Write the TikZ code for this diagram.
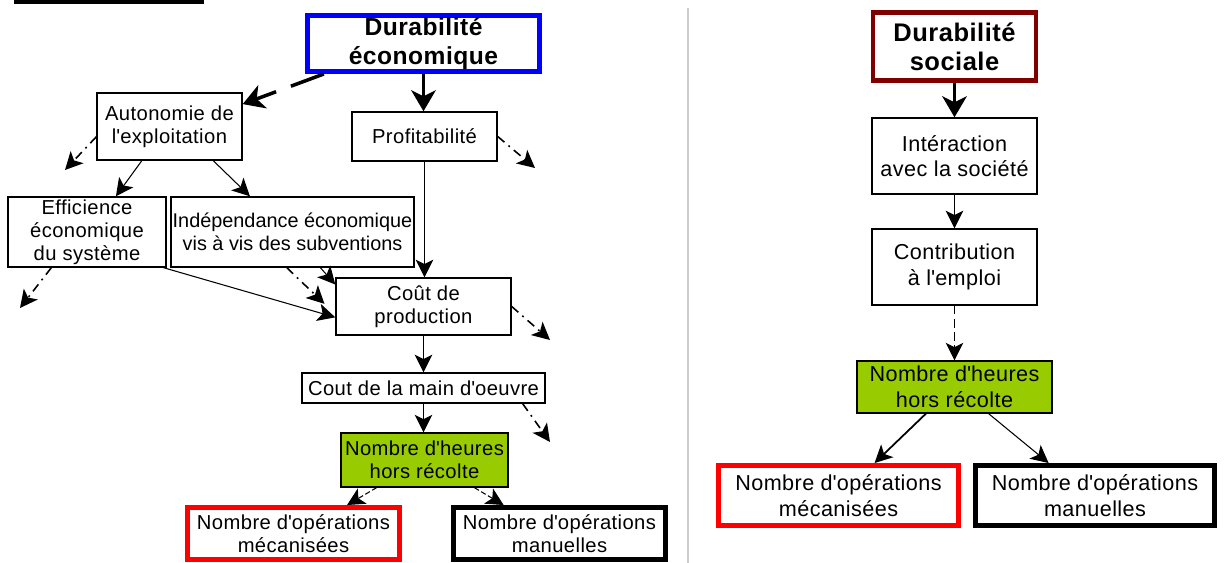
\documentclass[tikz,border=0pt]{standalone}
\usepackage{fontspec}
\setmainfont{Liberation Sans}[LetterSpace=2]
\usetikzlibrary{arrows.meta}
\definecolor{vert}{HTML}{99CC00}
\definecolor{bordeaux}{HTML}{800000}
\newcommand{\apo}{\textquotesingle}
\begin{document}
\begin{tikzpicture}[box/.style={draw,line width=.8pt,align=center,inner sep=1pt,font=\fontsize{11.5}{13}\selectfont},
  tete/.style={box,line width=2.8pt,font=\fontsize{14}{16}\selectfont\bfseries},
  heurebox/.style={box,fill=vert,line width=.7pt},
  fleche/.style={-{Stealth[length=10pt,width=10pt,inset=2.5pt]},line width=.6pt},
  grosse/.style={-{Stealth[length=12pt,width=14pt,inset=3.5pt]},line width=1.8pt},
  mixte/.style={fleche,line width=.9pt,dash pattern=on 5pt off 3pt on 1pt off 3pt}]
  \useasboundingbox (0,0) rectangle (24.62,-11.26);
  \fill (0.27,0) rectangle (4.08,-0.08);
  \draw[black!20,line width=.8pt] (13.76,-0.16) -- (13.76,-11.26);
  \node[tete,draw=blue,minimum width=4.64cm,minimum height=1.12cm] (econ) at (8.47,-0.87) {Durabilité\\économique};
  \node[box,minimum width=2.9cm,minimum height=1.34cm] (auto) at (3.39,-2.53) {Autonomie de\\l\apo exploitation};
  \node[box,minimum width=2.9cm,minimum height=0.98cm] (profit) at (8.49,-2.73) {Profitabilité};
  \node[box,minimum width=3.16cm,minimum height=1.4cm] (effic) at (1.74,-4.64) {Efficience\\économique\\du système};
  \node[box,inner xsep=0pt,minimum width=4.86cm,minimum height=1.4cm,font=\fontsize{11.3}{13}\selectfont\addfontfeature{LetterSpace=0}] (indep) at (5.85,-4.64) {Indépendance économique\\vis à vis des subventions};
  \node[box,minimum width=3.5cm,minimum height=1.14cm] (cout) at (8.47,-6.13) {Coût de\\production};
  \node[box,minimum width=4.86cm,minimum height=0.6cm] (mainoe) at (8.47,-7.76) {Cout de la main d\apo oeuvre};
  \node[heurebox,minimum width=3.34cm,minimum height=1.08cm] (heures) at (8.49,-9.2) {Nombre d\apo heures\\hors récolte};
  \node[box,draw=red,line width=2.8pt,minimum width=4.24cm,minimum height=1.04cm] (meca) at (5.87,-10.67) {Nombre d\apo opérations\\mécanisées};
  \node[box,line width=2.8pt,minimum width=4.24cm,minimum height=1.04cm] (manu) at (11.19,-10.67) {Nombre d\apo opérations\\manuelles};
  \coordinate (aut0) at (1.30,-3.40);
  \coordinate (pro0) at (10.70,-3.36);
  \coordinate (eff0) at (0.40,-6.16);
  \coordinate (cou0) at (11.00,-6.80);
  \coordinate (mai0) at (11.00,-8.84);
  \draw[grosse,line width=2pt,dash pattern=on 20pt off 9pt] (econ.197) -- (auto.17);
  \draw[grosse] (econ.south) -- (econ.south |- profit.north);
  \draw[mixte] (auto.188) -- (aut0);
  \draw[fleche] (auto.231) -- (effic.51);
  \draw[fleche] (auto.322) -- (indep.140);
  \draw[mixte] (profit.east) -- (pro0);
  \draw[fleche] (profit.south) -- (profit.south |- cout.north);
  \draw[mixte] (effic.225) -- (eff0);
  \draw[fleche] (effic.-25) -- (cout.187);
  \draw[mixte,shorten >=0.3cm] (indep.261) -- (cout.185);
  \draw[fleche] (indep.308) -- (cout.166);
  \draw[mixte] (cout.east) -- (cou0);
  \draw[fleche] (cout.south) -- (cout.south |- mainoe.north);
  \draw[fleche] (mainoe.south) -- (mainoe.south |- heures.north);
  \draw[mixte] (mainoe.-9) -- (mai0);
  \draw[fleche,dash pattern=on 3pt off 1.5pt] (heures.210) -- (meca.28);
  \draw[fleche,dash pattern=on 3pt off 1.5pt] (heures.331) -- (manu.153);
  \begin{scope}[xshift=19.09cm,box/.append style={font=\fontsize{12.3}{14.5}\selectfont},
    tete/.append style={font=\fontsize{14.5}{16.5}\selectfont\bfseries}]
    \node[tete,draw=bordeaux,minimum width=3.26cm,minimum height=1.36cm] (social) at (0,-0.93) {Durabilité\\sociale};
    \node[box,minimum width=3.3cm,minimum height=1.52cm] (inter) at (0,-3.12) {Intéraction\\avec la société};
    \node[box,minimum width=3.3cm,minimum height=1.52cm] (contrib) at (0,-5.34) {Contribution\\à l\apo emploi};
    \node[heurebox,minimum width=3.9cm,minimum height=1.04cm] (heures2) at (0,-7.74) {Nombre d\apo heures\\hors récolte};
    \node[box,draw=red,line width=2.8pt,minimum width=4.8cm,minimum height=1.2cm] (meca2) at (-2.32,-9.91) {Nombre d\apo opérations\\mécanisées};
    \node[box,line width=2.8pt,minimum width=4.78cm,minimum height=1.2cm] (manu2) at (2.81,-9.91) {Nombre d\apo opérations\\manuelles};
    \draw[grosse] (social) -- (inter);
    \draw[fleche] (inter) -- (contrib);
    \draw[fleche,dash pattern=on 5pt off 2.5pt] (contrib) -- (heures2);
    \draw[fleche,line width=1pt] (heures2.223) -- (meca2.42);
    \draw[fleche] (heures2.322) -- (manu2.145);
  \end{scope}
\end{tikzpicture}
\end{document}
